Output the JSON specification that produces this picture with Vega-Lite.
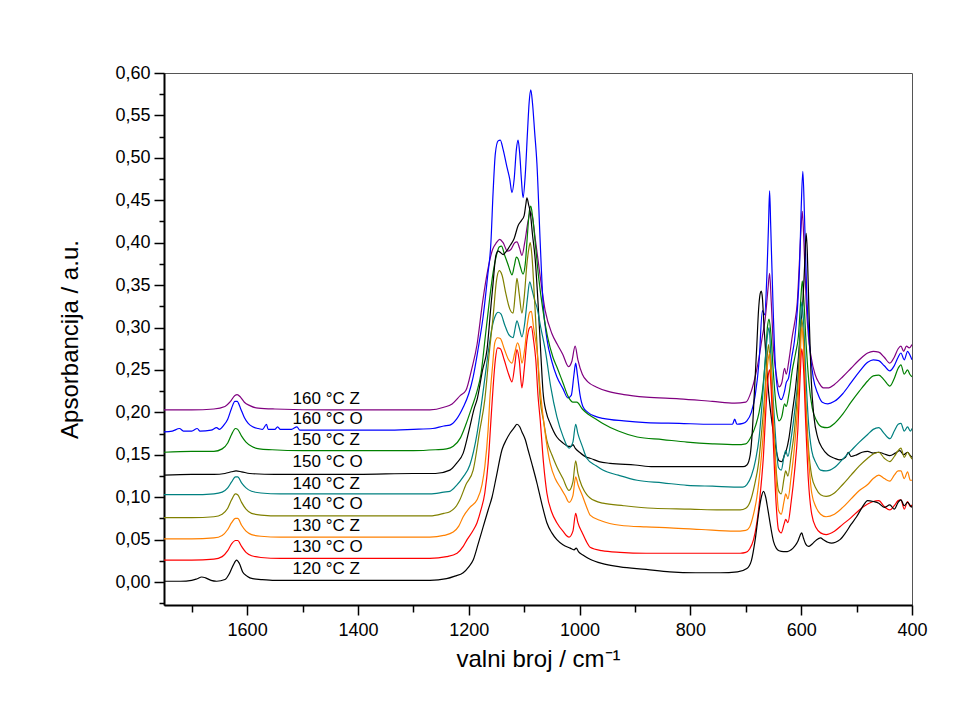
{
"$schema": "https://vega.github.io/schema/vega-lite/v6.json",
"width": 748,
"height": 532,
"autosize": {"type": "none"},
"padding": {"left": 164, "top": 73, "right": 60, "bottom": 112},
"background": "white",
"config": {"view": {"stroke": "#555555", "strokeWidth": 1}, "font": "Liberation Sans"},
"datasets": {
"spec": [
{"s":"Z160","x":1750,"y":0.203},{"s":"Z160","x":1700,"y":0.203},{"s":"Z160","x":1660,"y":0.204},{"s":"Z160","x":1640,"y":0.207},{"s":"Z160","x":1630,"y":0.213},{"s":"Z160","x":1622,"y":0.220},{"s":"Z160","x":1618,"y":0.221},{"s":"Z160","x":1612,"y":0.218},{"s":"Z160","x":1605,"y":0.212},{"s":"Z160","x":1595,"y":0.208},{"s":"Z160","x":1580,"y":0.205},{"s":"Z160","x":1550,"y":0.204},{"s":"Z160","x":1450,"y":0.203},{"s":"Z160","x":1350,"y":0.203},{"s":"Z160","x":1270,"y":0.203},{"s":"Z160","x":1245,"y":0.206},{"s":"Z160","x":1230,"y":0.210},{"s":"Z160","x":1215,"y":0.220},{"s":"Z160","x":1205,"y":0.226},{"s":"Z160","x":1195,"y":0.250},{"s":"Z160","x":1185,"y":0.280},{"s":"Z160","x":1175,"y":0.330},{"s":"Z160","x":1165,"y":0.370},{"s":"Z160","x":1157,"y":0.392},{"s":"Z160","x":1150,"y":0.400},{"s":"Z160","x":1144,"y":0.404},{"s":"Z160","x":1138,"y":0.400},{"s":"Z160","x":1130,"y":0.390},{"s":"Z160","x":1124,"y":0.392},{"s":"Z160","x":1117,"y":0.400},{"s":"Z160","x":1113,"y":0.401},{"s":"Z160","x":1108,"y":0.393},{"s":"Z160","x":1104,"y":0.385},{"s":"Z160","x":1099,"y":0.400},{"s":"Z160","x":1093,"y":0.425},{"s":"Z160","x":1089,"y":0.436},{"s":"Z160","x":1085,"y":0.430},{"s":"Z160","x":1080,"y":0.405},{"s":"Z160","x":1072,"y":0.365},{"s":"Z160","x":1062,"y":0.320},{"s":"Z160","x":1050,"y":0.293},{"s":"Z160","x":1040,"y":0.280},{"s":"Z160","x":1030,"y":0.268},{"s":"Z160","x":1020,"y":0.254},{"s":"Z160","x":1014,"y":0.260},{"s":"Z160","x":1008,"y":0.278},{"s":"Z160","x":1003,"y":0.262},{"s":"Z160","x":995,"y":0.245},{"s":"Z160","x":985,"y":0.236},{"s":"Z160","x":970,"y":0.230},{"s":"Z160","x":950,"y":0.225},{"s":"Z160","x":920,"y":0.221},{"s":"Z160","x":880,"y":0.218},{"s":"Z160","x":820,"y":0.216},{"s":"Z160","x":760,"y":0.213},{"s":"Z160","x":720,"y":0.211},{"s":"Z160","x":700,"y":0.212},{"s":"Z160","x":690,"y":0.225},{"s":"Z160","x":682,"y":0.245},{"s":"Z160","x":676,"y":0.265},{"s":"Z160","x":670,"y":0.290},{"s":"Z160","x":665,"y":0.310},{"s":"Z160","x":660,"y":0.345},{"s":"Z160","x":657,"y":0.364},{"s":"Z160","x":654,"y":0.330},{"s":"Z160","x":650,"y":0.275},{"s":"Z160","x":645,"y":0.245},{"s":"Z160","x":640,"y":0.230},{"s":"Z160","x":635,"y":0.235},{"s":"Z160","x":630,"y":0.252},{"s":"Z160","x":627,"y":0.245},{"s":"Z160","x":622,"y":0.262},{"s":"Z160","x":616,"y":0.290},{"s":"Z160","x":612,"y":0.305},{"s":"Z160","x":607,"y":0.330},{"s":"Z160","x":603,"y":0.380},{"s":"Z160","x":600,"y":0.420},{"s":"Z160","x":598,"y":0.437},{"s":"Z160","x":595,"y":0.400},{"s":"Z160","x":591,"y":0.330},{"s":"Z160","x":587,"y":0.290},{"s":"Z160","x":582,"y":0.265},{"s":"Z160","x":575,"y":0.245},{"s":"Z160","x":568,"y":0.235},{"s":"Z160","x":560,"y":0.229},{"s":"Z160","x":550,"y":0.229},{"s":"Z160","x":540,"y":0.233},{"s":"Z160","x":525,"y":0.242},{"s":"Z160","x":510,"y":0.252},{"s":"Z160","x":495,"y":0.262},{"s":"Z160","x":480,"y":0.270},{"s":"Z160","x":470,"y":0.272},{"s":"Z160","x":460,"y":0.271},{"s":"Z160","x":450,"y":0.265},{"s":"Z160","x":440,"y":0.258},{"s":"Z160","x":432,"y":0.265},{"s":"Z160","x":425,"y":0.275},{"s":"Z160","x":420,"y":0.278},{"s":"Z160","x":415,"y":0.272},{"s":"Z160","x":410,"y":0.278},{"s":"Z160","x":405,"y":0.276},{"s":"Z160","x":400,"y":0.280},

{"s":"O160","x":1750,"y":0.177},{"s":"O160","x":1735,"y":0.178},{"s":"O160","x":1722,"y":0.181},{"s":"O160","x":1715,"y":0.178},{"s":"O160","x":1700,"y":0.178},{"s":"O160","x":1690,"y":0.181},{"s":"O160","x":1685,"y":0.178},{"s":"O160","x":1665,"y":0.179},{"s":"O160","x":1655,"y":0.182},{"s":"O160","x":1650,"y":0.180},{"s":"O160","x":1642,"y":0.185},{"s":"O160","x":1635,"y":0.192},{"s":"O160","x":1628,"y":0.205},{"s":"O160","x":1622,"y":0.213},{"s":"O160","x":1618,"y":0.213},{"s":"O160","x":1612,"y":0.205},{"s":"O160","x":1605,"y":0.194},{"s":"O160","x":1598,"y":0.187},{"s":"O160","x":1590,"y":0.183},{"s":"O160","x":1580,"y":0.181},{"s":"O160","x":1572,"y":0.180},{"s":"O160","x":1565,"y":0.186},{"s":"O160","x":1562,"y":0.180},{"s":"O160","x":1550,"y":0.180},{"s":"O160","x":1545,"y":0.183},{"s":"O160","x":1540,"y":0.180},{"s":"O160","x":1520,"y":0.180},{"s":"O160","x":1510,"y":0.183},{"s":"O160","x":1505,"y":0.179},{"s":"O160","x":1450,"y":0.179},{"s":"O160","x":1350,"y":0.179},{"s":"O160","x":1300,"y":0.180},{"s":"O160","x":1265,"y":0.181},{"s":"O160","x":1245,"y":0.184},{"s":"O160","x":1234,"y":0.185},{"s":"O160","x":1222,"y":0.192},{"s":"O160","x":1210,"y":0.206},{"s":"O160","x":1200,"y":0.222},{"s":"O160","x":1192,"y":0.242},{"s":"O160","x":1183,"y":0.275},{"s":"O160","x":1174,"y":0.313},{"s":"O160","x":1166,"y":0.360},{"s":"O160","x":1160,"y":0.400},{"s":"O160","x":1156,"y":0.460},{"s":"O160","x":1152,"y":0.505},{"s":"O160","x":1147,"y":0.520},{"s":"O160","x":1143,"y":0.521},{"s":"O160","x":1138,"y":0.510},{"s":"O160","x":1131,"y":0.489},{"s":"O160","x":1126,"y":0.475},{"s":"O160","x":1122,"y":0.459},{"s":"O160","x":1118,"y":0.475},{"s":"O160","x":1114,"y":0.510},{"s":"O160","x":1111,"y":0.521},{"s":"O160","x":1108,"y":0.505},{"s":"O160","x":1105,"y":0.475},{"s":"O160","x":1102,"y":0.453},{"s":"O160","x":1098,"y":0.480},{"s":"O160","x":1094,"y":0.530},{"s":"O160","x":1091,"y":0.565},{"s":"O160","x":1088,"y":0.580},{"s":"O160","x":1085,"y":0.565},{"s":"O160","x":1081,"y":0.530},{"s":"O160","x":1077,"y":0.494},{"s":"O160","x":1071,"y":0.400},{"s":"O160","x":1066,"y":0.330},{"s":"O160","x":1059,"y":0.287},{"s":"O160","x":1050,"y":0.260},{"s":"O160","x":1041,"y":0.242},{"s":"O160","x":1030,"y":0.228},{"s":"O160","x":1021,"y":0.217},{"s":"O160","x":1015,"y":0.220},{"s":"O160","x":1010,"y":0.245},{"s":"O160","x":1007,"y":0.258},{"s":"O160","x":1004,"y":0.245},{"s":"O160","x":999,"y":0.220},{"s":"O160","x":994,"y":0.207},{"s":"O160","x":985,"y":0.200},{"s":"O160","x":970,"y":0.195},{"s":"O160","x":958,"y":0.193},{"s":"O160","x":920,"y":0.190},{"s":"O160","x":880,"y":0.188},{"s":"O160","x":820,"y":0.187},{"s":"O160","x":760,"y":0.186},{"s":"O160","x":724,"y":0.186},{"s":"O160","x":720,"y":0.192},{"s":"O160","x":716,"y":0.186},{"s":"O160","x":705,"y":0.187},{"s":"O160","x":698,"y":0.190},{"s":"O160","x":690,"y":0.200},{"s":"O160","x":683,"y":0.220},{"s":"O160","x":676,"y":0.260},{"s":"O160","x":670,"y":0.320},{"s":"O160","x":666,"y":0.315},{"s":"O160","x":662,"y":0.360},{"s":"O160","x":659,"y":0.420},{"s":"O160","x":657,"y":0.461},{"s":"O160","x":655,"y":0.420},{"s":"O160","x":651,"y":0.330},{"s":"O160","x":647,"y":0.260},{"s":"O160","x":642,"y":0.225},{"s":"O160","x":636,"y":0.215},{"s":"O160","x":630,"y":0.225},{"s":"O160","x":627,"y":0.235},{"s":"O160","x":623,"y":0.240},{"s":"O160","x":617,"y":0.265},{"s":"O160","x":612,"y":0.285},{"s":"O160","x":607,"y":0.320},{"s":"O160","x":603,"y":0.370},{"s":"O160","x":600,"y":0.440},{"s":"O160","x":597,"y":0.484},{"s":"O160","x":594,"y":0.430},{"s":"O160","x":590,"y":0.340},{"s":"O160","x":585,"y":0.280},{"s":"O160","x":578,"y":0.240},{"s":"O160","x":570,"y":0.222},{"s":"O160","x":562,"y":0.212},{"s":"O160","x":552,"y":0.210},{"s":"O160","x":540,"y":0.213},{"s":"O160","x":525,"y":0.222},{"s":"O160","x":510,"y":0.235},{"s":"O160","x":495,"y":0.248},{"s":"O160","x":480,"y":0.259},{"s":"O160","x":470,"y":0.262},{"s":"O160","x":460,"y":0.261},{"s":"O160","x":450,"y":0.255},{"s":"O160","x":440,"y":0.249},{"s":"O160","x":432,"y":0.255},{"s":"O160","x":425,"y":0.265},{"s":"O160","x":420,"y":0.270},{"s":"O160","x":414,"y":0.262},{"s":"O160","x":408,"y":0.272},{"s":"O160","x":404,"y":0.268},{"s":"O160","x":400,"y":0.262},

{"s":"Z150","x":1750,"y":0.153},{"s":"Z150","x":1700,"y":0.154},{"s":"Z150","x":1660,"y":0.154},{"s":"Z150","x":1645,"y":0.157},{"s":"Z150","x":1635,"y":0.164},{"s":"Z150","x":1628,"y":0.174},{"s":"Z150","x":1621,"y":0.181},{"s":"Z150","x":1617,"y":0.180},{"s":"Z150","x":1610,"y":0.172},{"s":"Z150","x":1602,"y":0.165},{"s":"Z150","x":1592,"y":0.160},{"s":"Z150","x":1578,"y":0.157},{"s":"Z150","x":1555,"y":0.156},{"s":"Z150","x":1500,"y":0.155},{"s":"Z150","x":1400,"y":0.155},{"s":"Z150","x":1300,"y":0.155},{"s":"Z150","x":1260,"y":0.156},{"s":"Z150","x":1240,"y":0.157},{"s":"Z150","x":1228,"y":0.160},{"s":"Z150","x":1215,"y":0.170},{"s":"Z150","x":1205,"y":0.186},{"s":"Z150","x":1195,"y":0.205},{"s":"Z150","x":1185,"y":0.225},{"s":"Z150","x":1178,"y":0.245},{"s":"Z150","x":1170,"y":0.290},{"s":"Z150","x":1163,"y":0.330},{"s":"Z150","x":1156,"y":0.365},{"s":"Z150","x":1150,"y":0.385},{"s":"Z150","x":1145,"y":0.395},{"s":"Z150","x":1141,"y":0.396},{"s":"Z150","x":1135,"y":0.385},{"s":"Z150","x":1129,"y":0.374},{"s":"Z150","x":1125,"y":0.366},{"s":"Z150","x":1122,"y":0.362},{"s":"Z150","x":1118,"y":0.372},{"s":"Z150","x":1114,"y":0.383},{"s":"Z150","x":1111,"y":0.381},{"s":"Z150","x":1107,"y":0.372},{"s":"Z150","x":1102,"y":0.363},{"s":"Z150","x":1098,"y":0.375},{"s":"Z150","x":1094,"y":0.410},{"s":"Z150","x":1091,"y":0.435},{"s":"Z150","x":1088,"y":0.443},{"s":"Z150","x":1085,"y":0.432},{"s":"Z150","x":1080,"y":0.400},{"s":"Z150","x":1074,"y":0.360},{"s":"Z150","x":1066,"y":0.320},{"s":"Z150","x":1058,"y":0.290},{"s":"Z150","x":1048,"y":0.265},{"s":"Z150","x":1040,"y":0.252},{"s":"Z150","x":1030,"y":0.235},{"s":"Z150","x":1020,"y":0.218},{"s":"Z150","x":1012,"y":0.212},{"s":"Z150","x":1005,"y":0.212},{"s":"Z150","x":995,"y":0.204},{"s":"Z150","x":985,"y":0.198},{"s":"Z150","x":970,"y":0.192},{"s":"Z150","x":958,"y":0.187},{"s":"Z150","x":930,"y":0.178},{"s":"Z150","x":896,"y":0.171},{"s":"Z150","x":850,"y":0.168},{"s":"Z150","x":806,"y":0.165},{"s":"Z150","x":760,"y":0.163},{"s":"Z150","x":716,"y":0.162},{"s":"Z150","x":700,"y":0.163},{"s":"Z150","x":690,"y":0.172},{"s":"Z150","x":682,"y":0.185},{"s":"Z150","x":676,"y":0.200},{"s":"Z150","x":670,"y":0.225},{"s":"Z150","x":665,"y":0.260},{"s":"Z150","x":661,"y":0.300},{"s":"Z150","x":658,"y":0.310},{"s":"Z150","x":655,"y":0.295},{"s":"Z150","x":650,"y":0.245},{"s":"Z150","x":645,"y":0.205},{"s":"Z150","x":640,"y":0.190},{"s":"Z150","x":635,"y":0.195},{"s":"Z150","x":630,"y":0.210},{"s":"Z150","x":627,"y":0.207},{"s":"Z150","x":622,"y":0.222},{"s":"Z150","x":616,"y":0.250},{"s":"Z150","x":610,"y":0.270},{"s":"Z150","x":605,"y":0.290},{"s":"Z150","x":601,"y":0.330},{"s":"Z150","x":598,"y":0.355},{"s":"Z150","x":595,"y":0.330},{"s":"Z150","x":591,"y":0.280},{"s":"Z150","x":586,"y":0.235},{"s":"Z150","x":580,"y":0.205},{"s":"Z150","x":572,"y":0.190},{"s":"Z150","x":563,"y":0.183},{"s":"Z150","x":553,"y":0.182},{"s":"Z150","x":540,"y":0.187},{"s":"Z150","x":525,"y":0.198},{"s":"Z150","x":510,"y":0.212},{"s":"Z150","x":495,"y":0.225},{"s":"Z150","x":480,"y":0.237},{"s":"Z150","x":470,"y":0.243},{"s":"Z150","x":460,"y":0.244},{"s":"Z150","x":450,"y":0.238},{"s":"Z150","x":440,"y":0.231},{"s":"Z150","x":432,"y":0.240},{"s":"Z150","x":425,"y":0.252},{"s":"Z150","x":420,"y":0.256},{"s":"Z150","x":414,"y":0.245},{"s":"Z150","x":408,"y":0.250},{"s":"Z150","x":404,"y":0.245},{"s":"Z150","x":400,"y":0.242},

{"s":"O150","x":1750,"y":0.126},{"s":"O150","x":1700,"y":0.127},{"s":"O150","x":1660,"y":0.127},{"s":"O150","x":1640,"y":0.128},{"s":"O150","x":1628,"y":0.130},{"s":"O150","x":1620,"y":0.131},{"s":"O150","x":1610,"y":0.130},{"s":"O150","x":1595,"y":0.128},{"s":"O150","x":1550,"y":0.127},{"s":"O150","x":1500,"y":0.127},{"s":"O150","x":1400,"y":0.127},{"s":"O150","x":1300,"y":0.128},{"s":"O150","x":1260,"y":0.128},{"s":"O150","x":1234,"y":0.132},{"s":"O150","x":1222,"y":0.140},{"s":"O150","x":1210,"y":0.152},{"s":"O150","x":1198,"y":0.183},{"s":"O150","x":1190,"y":0.205},{"s":"O150","x":1185,"y":0.215},{"s":"O150","x":1175,"y":0.250},{"s":"O150","x":1167,"y":0.274},{"s":"O150","x":1160,"y":0.325},{"s":"O150","x":1156,"y":0.353},{"s":"O150","x":1151,"y":0.385},{"s":"O150","x":1147,"y":0.390},{"s":"O150","x":1142,"y":0.388},{"s":"O150","x":1138,"y":0.386},{"s":"O150","x":1132,"y":0.390},{"s":"O150","x":1125,"y":0.397},{"s":"O150","x":1118,"y":0.405},{"s":"O150","x":1111,"y":0.420},{"s":"O150","x":1105,"y":0.426},{"s":"O150","x":1100,"y":0.432},{"s":"O150","x":1097,"y":0.445},{"s":"O150","x":1095,"y":0.453},{"s":"O150","x":1092,"y":0.445},{"s":"O150","x":1089,"y":0.436},{"s":"O150","x":1085,"y":0.410},{"s":"O150","x":1080,"y":0.380},{"s":"O150","x":1075,"y":0.330},{"s":"O150","x":1070,"y":0.270},{"s":"O150","x":1066,"y":0.225},{"s":"O150","x":1060,"y":0.200},{"s":"O150","x":1053,"y":0.187},{"s":"O150","x":1041,"y":0.171},{"s":"O150","x":1030,"y":0.164},{"s":"O150","x":1020,"y":0.160},{"s":"O150","x":1015,"y":0.160},{"s":"O150","x":1012,"y":0.162},{"s":"O150","x":1008,"y":0.158},{"s":"O150","x":1000,"y":0.153},{"s":"O150","x":987,"y":0.147},{"s":"O150","x":981,"y":0.146},{"s":"O150","x":965,"y":0.142},{"s":"O150","x":945,"y":0.140},{"s":"O150","x":900,"y":0.138},{"s":"O150","x":867,"y":0.136},{"s":"O150","x":820,"y":0.136},{"s":"O150","x":777,"y":0.136},{"s":"O150","x":720,"y":0.136},{"s":"O150","x":705,"y":0.136},{"s":"O150","x":698,"y":0.138},{"s":"O150","x":692,"y":0.150},{"s":"O150","x":688,"y":0.180},{"s":"O150","x":684,"y":0.230},{"s":"O150","x":680,"y":0.280},{"s":"O150","x":677,"y":0.320},{"s":"O150","x":674,"y":0.340},{"s":"O150","x":672,"y":0.343},{"s":"O150","x":670,"y":0.335},{"s":"O150","x":667,"y":0.300},{"s":"O150","x":663,"y":0.260},{"s":"O150","x":659,"y":0.225},{"s":"O150","x":655,"y":0.200},{"s":"O150","x":650,"y":0.175},{"s":"O150","x":645,"y":0.155},{"s":"O150","x":640,"y":0.143},{"s":"O150","x":635,"y":0.142},{"s":"O150","x":630,"y":0.150},{"s":"O150","x":627,"y":0.155},{"s":"O150","x":622,"y":0.170},{"s":"O150","x":616,"y":0.200},{"s":"O150","x":610,"y":0.230},{"s":"O150","x":605,"y":0.265},{"s":"O150","x":601,"y":0.300},{"s":"O150","x":597,"y":0.330},{"s":"O150","x":594,"y":0.370},{"s":"O150","x":591,"y":0.411},{"s":"O150","x":589,"y":0.390},{"s":"O150","x":586,"y":0.320},{"s":"O150","x":582,"y":0.240},{"s":"O150","x":577,"y":0.195},{"s":"O150","x":570,"y":0.170},{"s":"O150","x":562,"y":0.158},{"s":"O150","x":552,"y":0.150},{"s":"O150","x":540,"y":0.146},{"s":"O150","x":530,"y":0.144},{"s":"O150","x":520,"y":0.147},{"s":"O150","x":515,"y":0.153},{"s":"O150","x":510,"y":0.148},{"s":"O150","x":500,"y":0.150},{"s":"O150","x":490,"y":0.153},{"s":"O150","x":480,"y":0.154},{"s":"O150","x":470,"y":0.152},{"s":"O150","x":460,"y":0.153},{"s":"O150","x":450,"y":0.151},{"s":"O150","x":440,"y":0.149},{"s":"O150","x":430,"y":0.152},{"s":"O150","x":422,"y":0.155},{"s":"O150","x":415,"y":0.150},{"s":"O150","x":408,"y":0.153},{"s":"O150","x":403,"y":0.149},{"s":"O150","x":400,"y":0.147},

{"s":"Z140","x":1750,"y":0.103},{"s":"Z140","x":1700,"y":0.103},{"s":"Z140","x":1660,"y":0.104},{"s":"Z140","x":1645,"y":0.106},{"s":"Z140","x":1635,"y":0.111},{"s":"Z140","x":1628,"y":0.118},{"s":"Z140","x":1621,"y":0.124},{"s":"Z140","x":1617,"y":0.124},{"s":"Z140","x":1610,"y":0.117},{"s":"Z140","x":1602,"y":0.111},{"s":"Z140","x":1592,"y":0.107},{"s":"Z140","x":1575,"y":0.105},{"s":"Z140","x":1540,"y":0.104},{"s":"Z140","x":1450,"y":0.104},{"s":"Z140","x":1350,"y":0.104},{"s":"Z140","x":1270,"y":0.104},{"s":"Z140","x":1245,"y":0.106},{"s":"Z140","x":1234,"y":0.107},{"s":"Z140","x":1222,"y":0.114},{"s":"Z140","x":1210,"y":0.124},{"s":"Z140","x":1198,"y":0.138},{"s":"Z140","x":1185,"y":0.175},{"s":"Z140","x":1176,"y":0.215},{"s":"Z140","x":1167,"y":0.260},{"s":"Z140","x":1158,"y":0.300},{"s":"Z140","x":1152,"y":0.314},{"s":"Z140","x":1147,"y":0.318},{"s":"Z140","x":1142,"y":0.316},{"s":"Z140","x":1135,"y":0.303},{"s":"Z140","x":1128,"y":0.292},{"s":"Z140","x":1120,"y":0.288},{"s":"Z140","x":1116,"y":0.300},{"s":"Z140","x":1113,"y":0.308},{"s":"Z140","x":1109,"y":0.300},{"s":"Z140","x":1104,"y":0.289},{"s":"Z140","x":1099,"y":0.305},{"s":"Z140","x":1094,"y":0.335},{"s":"Z140","x":1090,"y":0.354},{"s":"Z140","x":1086,"y":0.345},{"s":"Z140","x":1080,"y":0.330},{"s":"Z140","x":1077,"y":0.324},{"s":"Z140","x":1070,"y":0.300},{"s":"Z140","x":1062,"y":0.274},{"s":"Z140","x":1052,"y":0.230},{"s":"Z140","x":1041,"y":0.195},{"s":"Z140","x":1030,"y":0.172},{"s":"Z140","x":1019,"y":0.158},{"s":"Z140","x":1012,"y":0.165},{"s":"Z140","x":1007,"y":0.186},{"s":"Z140","x":1003,"y":0.175},{"s":"Z140","x":995,"y":0.160},{"s":"Z140","x":987,"y":0.146},{"s":"Z140","x":970,"y":0.137},{"s":"Z140","x":958,"y":0.132},{"s":"Z140","x":930,"y":0.126},{"s":"Z140","x":896,"y":0.120},{"s":"Z140","x":850,"y":0.117},{"s":"Z140","x":806,"y":0.114},{"s":"Z140","x":760,"y":0.113},{"s":"Z140","x":705,"y":0.112},{"s":"Z140","x":698,"y":0.115},{"s":"Z140","x":690,"y":0.125},{"s":"Z140","x":682,"y":0.145},{"s":"Z140","x":676,"y":0.170},{"s":"Z140","x":670,"y":0.215},{"s":"Z140","x":665,"y":0.260},{"s":"Z140","x":661,"y":0.290},{"s":"Z140","x":658,"y":0.300},{"s":"Z140","x":655,"y":0.270},{"s":"Z140","x":650,"y":0.210},{"s":"Z140","x":645,"y":0.160},{"s":"Z140","x":641,"y":0.135},{"s":"Z140","x":636,"y":0.132},{"s":"Z140","x":631,"y":0.148},{"s":"Z140","x":628,"y":0.155},{"s":"Z140","x":624,"y":0.148},{"s":"Z140","x":618,"y":0.170},{"s":"Z140","x":612,"y":0.200},{"s":"Z140","x":606,"y":0.240},{"s":"Z140","x":602,"y":0.290},{"s":"Z140","x":599,"y":0.330},{"s":"Z140","x":596,"y":0.310},{"s":"Z140","x":592,"y":0.250},{"s":"Z140","x":587,"y":0.190},{"s":"Z140","x":581,"y":0.155},{"s":"Z140","x":573,"y":0.140},{"s":"Z140","x":565,"y":0.132},{"s":"Z140","x":555,"y":0.131},{"s":"Z140","x":540,"y":0.135},{"s":"Z140","x":525,"y":0.145},{"s":"Z140","x":510,"y":0.155},{"s":"Z140","x":495,"y":0.165},{"s":"Z140","x":480,"y":0.174},{"s":"Z140","x":470,"y":0.180},{"s":"Z140","x":460,"y":0.182},{"s":"Z140","x":450,"y":0.175},{"s":"Z140","x":440,"y":0.169},{"s":"Z140","x":432,"y":0.178},{"s":"Z140","x":425,"y":0.186},{"s":"Z140","x":420,"y":0.187},{"s":"Z140","x":414,"y":0.178},{"s":"Z140","x":408,"y":0.183},{"s":"Z140","x":403,"y":0.178},{"s":"Z140","x":400,"y":0.181},

{"s":"O140","x":1750,"y":0.076},{"s":"O140","x":1700,"y":0.076},{"s":"O140","x":1660,"y":0.077},{"s":"O140","x":1645,"y":0.080},{"s":"O140","x":1635,"y":0.087},{"s":"O140","x":1628,"y":0.097},{"s":"O140","x":1621,"y":0.104},{"s":"O140","x":1617,"y":0.103},{"s":"O140","x":1610,"y":0.094},{"s":"O140","x":1602,"y":0.086},{"s":"O140","x":1592,"y":0.081},{"s":"O140","x":1575,"y":0.079},{"s":"O140","x":1540,"y":0.078},{"s":"O140","x":1450,"y":0.078},{"s":"O140","x":1350,"y":0.078},{"s":"O140","x":1270,"y":0.078},{"s":"O140","x":1245,"y":0.081},{"s":"O140","x":1234,"y":0.083},{"s":"O140","x":1222,"y":0.090},{"s":"O140","x":1216,"y":0.097},{"s":"O140","x":1205,"y":0.115},{"s":"O140","x":1192,"y":0.132},{"s":"O140","x":1180,"y":0.179},{"s":"O140","x":1171,"y":0.215},{"s":"O140","x":1163,"y":0.270},{"s":"O140","x":1156,"y":0.313},{"s":"O140","x":1150,"y":0.355},{"s":"O140","x":1145,"y":0.367},{"s":"O140","x":1140,"y":0.362},{"s":"O140","x":1133,"y":0.340},{"s":"O140","x":1126,"y":0.322},{"s":"O140","x":1120,"y":0.317},{"s":"O140","x":1116,"y":0.340},{"s":"O140","x":1113,"y":0.358},{"s":"O140","x":1109,"y":0.340},{"s":"O140","x":1104,"y":0.317},{"s":"O140","x":1100,"y":0.335},{"s":"O140","x":1095,"y":0.375},{"s":"O140","x":1091,"y":0.395},{"s":"O140","x":1089,"y":0.400},{"s":"O140","x":1086,"y":0.385},{"s":"O140","x":1081,"y":0.330},{"s":"O140","x":1076,"y":0.270},{"s":"O140","x":1071,"y":0.215},{"s":"O140","x":1065,"y":0.190},{"s":"O140","x":1059,"y":0.167},{"s":"O140","x":1050,"y":0.150},{"s":"O140","x":1041,"y":0.136},{"s":"O140","x":1030,"y":0.122},{"s":"O140","x":1019,"y":0.108},{"s":"O140","x":1012,"y":0.118},{"s":"O140","x":1007,"y":0.143},{"s":"O140","x":1003,"y":0.128},{"s":"O140","x":995,"y":0.112},{"s":"O140","x":987,"y":0.103},{"s":"O140","x":981,"y":0.099},{"s":"O140","x":958,"y":0.093},{"s":"O140","x":920,"y":0.090},{"s":"O140","x":867,"y":0.087},{"s":"O140","x":800,"y":0.086},{"s":"O140","x":746,"y":0.085},{"s":"O140","x":710,"y":0.085},{"s":"O140","x":700,"y":0.087},{"s":"O140","x":692,"y":0.095},{"s":"O140","x":684,"y":0.115},{"s":"O140","x":677,"y":0.140},{"s":"O140","x":671,"y":0.180},{"s":"O140","x":666,"y":0.220},{"s":"O140","x":662,"y":0.260},{"s":"O140","x":659,"y":0.280},{"s":"O140","x":656,"y":0.260},{"s":"O140","x":651,"y":0.200},{"s":"O140","x":646,"y":0.140},{"s":"O140","x":641,"y":0.108},{"s":"O140","x":636,"y":0.104},{"s":"O140","x":631,"y":0.122},{"s":"O140","x":628,"y":0.131},{"s":"O140","x":624,"y":0.125},{"s":"O140","x":618,"y":0.150},{"s":"O140","x":612,"y":0.180},{"s":"O140","x":606,"y":0.230},{"s":"O140","x":602,"y":0.280},{"s":"O140","x":599,"y":0.310},{"s":"O140","x":596,"y":0.290},{"s":"O140","x":592,"y":0.220},{"s":"O140","x":587,"y":0.160},{"s":"O140","x":581,"y":0.125},{"s":"O140","x":573,"y":0.110},{"s":"O140","x":565,"y":0.103},{"s":"O140","x":555,"y":0.101},{"s":"O140","x":540,"y":0.105},{"s":"O140","x":525,"y":0.115},{"s":"O140","x":510,"y":0.126},{"s":"O140","x":495,"y":0.137},{"s":"O140","x":480,"y":0.146},{"s":"O140","x":470,"y":0.151},{"s":"O140","x":460,"y":0.153},{"s":"O140","x":450,"y":0.146},{"s":"O140","x":440,"y":0.142},{"s":"O140","x":432,"y":0.148},{"s":"O140","x":425,"y":0.155},{"s":"O140","x":420,"y":0.158},{"s":"O140","x":414,"y":0.147},{"s":"O140","x":408,"y":0.153},{"s":"O140","x":403,"y":0.148},{"s":"O140","x":400,"y":0.145},

{"s":"Z130","x":1750,"y":0.051},{"s":"Z130","x":1700,"y":0.051},{"s":"Z130","x":1660,"y":0.052},{"s":"Z130","x":1645,"y":0.055},{"s":"Z130","x":1635,"y":0.062},{"s":"Z130","x":1628,"y":0.070},{"s":"Z130","x":1621,"y":0.075},{"s":"Z130","x":1617,"y":0.075},{"s":"Z130","x":1610,"y":0.067},{"s":"Z130","x":1602,"y":0.060},{"s":"Z130","x":1592,"y":0.056},{"s":"Z130","x":1575,"y":0.054},{"s":"Z130","x":1540,"y":0.053},{"s":"Z130","x":1450,"y":0.053},{"s":"Z130","x":1350,"y":0.053},{"s":"Z130","x":1270,"y":0.053},{"s":"Z130","x":1245,"y":0.055},{"s":"Z130","x":1228,"y":0.059},{"s":"Z130","x":1218,"y":0.066},{"s":"Z130","x":1210,"y":0.077},{"s":"Z130","x":1198,"y":0.088},{"s":"Z130","x":1185,"y":0.097},{"s":"Z130","x":1176,"y":0.115},{"s":"Z130","x":1171,"y":0.136},{"s":"Z130","x":1165,"y":0.180},{"s":"Z130","x":1162,"y":0.215},{"s":"Z130","x":1157,"y":0.255},{"s":"Z130","x":1153,"y":0.282},{"s":"Z130","x":1148,"y":0.288},{"s":"Z130","x":1143,"y":0.287},{"s":"Z130","x":1136,"y":0.275},{"s":"Z130","x":1128,"y":0.262},{"s":"Z130","x":1122,"y":0.258},{"s":"Z130","x":1117,"y":0.270},{"s":"Z130","x":1112,"y":0.282},{"s":"Z130","x":1108,"y":0.275},{"s":"Z130","x":1104,"y":0.258},{"s":"Z130","x":1099,"y":0.275},{"s":"Z130","x":1094,"y":0.305},{"s":"Z130","x":1090,"y":0.318},{"s":"Z130","x":1087,"y":0.319},{"s":"Z130","x":1083,"y":0.300},{"s":"Z130","x":1077,"y":0.274},{"s":"Z130","x":1070,"y":0.220},{"s":"Z130","x":1063,"y":0.180},{"s":"Z130","x":1053,"y":0.140},{"s":"Z130","x":1044,"y":0.122},{"s":"Z130","x":1035,"y":0.112},{"s":"Z130","x":1026,"y":0.102},{"s":"Z130","x":1019,"y":0.094},{"s":"Z130","x":1012,"y":0.102},{"s":"Z130","x":1007,"y":0.124},{"s":"Z130","x":1003,"y":0.115},{"s":"Z130","x":995,"y":0.102},{"s":"Z130","x":987,"y":0.088},{"s":"Z130","x":981,"y":0.079},{"s":"Z130","x":960,"y":0.072},{"s":"Z130","x":927,"y":0.067},{"s":"Z130","x":880,"y":0.065},{"s":"Z130","x":837,"y":0.064},{"s":"Z130","x":780,"y":0.062},{"s":"Z130","x":720,"y":0.060},{"s":"Z130","x":700,"y":0.061},{"s":"Z130","x":693,"y":0.065},{"s":"Z130","x":686,"y":0.080},{"s":"Z130","x":680,"y":0.100},{"s":"Z130","x":673,"y":0.140},{"s":"Z130","x":668,"y":0.180},{"s":"Z130","x":664,"y":0.230},{"s":"Z130","x":660,"y":0.260},{"s":"Z130","x":657,"y":0.270},{"s":"Z130","x":654,"y":0.250},{"s":"Z130","x":650,"y":0.190},{"s":"Z130","x":645,"y":0.120},{"s":"Z130","x":641,"y":0.085},{"s":"Z130","x":636,"y":0.080},{"s":"Z130","x":631,"y":0.095},{"s":"Z130","x":628,"y":0.104},{"s":"Z130","x":624,"y":0.098},{"s":"Z130","x":618,"y":0.125},{"s":"Z130","x":612,"y":0.160},{"s":"Z130","x":606,"y":0.210},{"s":"Z130","x":602,"y":0.260},{"s":"Z130","x":599,"y":0.300},{"s":"Z130","x":596,"y":0.280},{"s":"Z130","x":592,"y":0.210},{"s":"Z130","x":587,"y":0.150},{"s":"Z130","x":581,"y":0.105},{"s":"Z130","x":573,"y":0.088},{"s":"Z130","x":565,"y":0.080},{"s":"Z130","x":555,"y":0.077},{"s":"Z130","x":540,"y":0.080},{"s":"Z130","x":525,"y":0.088},{"s":"Z130","x":510,"y":0.098},{"s":"Z130","x":495,"y":0.108},{"s":"Z130","x":480,"y":0.115},{"s":"Z130","x":470,"y":0.122},{"s":"Z130","x":460,"y":0.126},{"s":"Z130","x":450,"y":0.122},{"s":"Z130","x":440,"y":0.119},{"s":"Z130","x":432,"y":0.126},{"s":"Z130","x":425,"y":0.131},{"s":"Z130","x":420,"y":0.131},{"s":"Z130","x":414,"y":0.122},{"s":"Z130","x":408,"y":0.130},{"s":"Z130","x":403,"y":0.120},{"s":"Z130","x":400,"y":0.120},

{"s":"O130","x":1750,"y":0.026},{"s":"O130","x":1700,"y":0.026},{"s":"O130","x":1660,"y":0.027},{"s":"O130","x":1645,"y":0.030},{"s":"O130","x":1635,"y":0.037},{"s":"O130","x":1628,"y":0.045},{"s":"O130","x":1621,"y":0.049},{"s":"O130","x":1617,"y":0.049},{"s":"O130","x":1610,"y":0.042},{"s":"O130","x":1602,"y":0.035},{"s":"O130","x":1592,"y":0.031},{"s":"O130","x":1575,"y":0.029},{"s":"O130","x":1540,"y":0.028},{"s":"O130","x":1450,"y":0.028},{"s":"O130","x":1350,"y":0.028},{"s":"O130","x":1270,"y":0.028},{"s":"O130","x":1240,"y":0.030},{"s":"O130","x":1221,"y":0.034},{"s":"O130","x":1210,"y":0.042},{"s":"O130","x":1203,"y":0.050},{"s":"O130","x":1193,"y":0.060},{"s":"O130","x":1185,"y":0.070},{"s":"O130","x":1178,"y":0.085},{"s":"O130","x":1171,"y":0.105},{"s":"O130","x":1165,"y":0.140},{"s":"O130","x":1160,"y":0.190},{"s":"O130","x":1156,"y":0.230},{"s":"O130","x":1152,"y":0.262},{"s":"O130","x":1148,"y":0.276},{"s":"O130","x":1143,"y":0.275},{"s":"O130","x":1136,"y":0.262},{"s":"O130","x":1128,"y":0.245},{"s":"O130","x":1122,"y":0.236},{"s":"O130","x":1117,"y":0.255},{"s":"O130","x":1113,"y":0.274},{"s":"O130","x":1109,"y":0.262},{"s":"O130","x":1104,"y":0.229},{"s":"O130","x":1100,"y":0.250},{"s":"O130","x":1095,"y":0.285},{"s":"O130","x":1090,"y":0.300},{"s":"O130","x":1087,"y":0.301},{"s":"O130","x":1083,"y":0.285},{"s":"O130","x":1079,"y":0.262},{"s":"O130","x":1075,"y":0.220},{"s":"O130","x":1071,"y":0.191},{"s":"O130","x":1065,"y":0.140},{"s":"O130","x":1059,"y":0.105},{"s":"O130","x":1050,"y":0.082},{"s":"O130","x":1041,"y":0.070},{"s":"O130","x":1030,"y":0.060},{"s":"O130","x":1019,"y":0.053},{"s":"O130","x":1012,"y":0.060},{"s":"O130","x":1007,"y":0.081},{"s":"O130","x":1003,"y":0.070},{"s":"O130","x":995,"y":0.058},{"s":"O130","x":987,"y":0.047},{"s":"O130","x":981,"y":0.041},{"s":"O130","x":960,"y":0.037},{"s":"O130","x":927,"y":0.035},{"s":"O130","x":880,"y":0.034},{"s":"O130","x":837,"y":0.034},{"s":"O130","x":760,"y":0.034},{"s":"O130","x":710,"y":0.034},{"s":"O130","x":700,"y":0.035},{"s":"O130","x":693,"y":0.039},{"s":"O130","x":686,"y":0.050},{"s":"O130","x":680,"y":0.070},{"s":"O130","x":673,"y":0.110},{"s":"O130","x":668,"y":0.150},{"s":"O130","x":664,"y":0.200},{"s":"O130","x":660,"y":0.240},{"s":"O130","x":657,"y":0.250},{"s":"O130","x":654,"y":0.225},{"s":"O130","x":650,"y":0.160},{"s":"O130","x":645,"y":0.090},{"s":"O130","x":641,"y":0.062},{"s":"O130","x":636,"y":0.058},{"s":"O130","x":631,"y":0.068},{"s":"O130","x":628,"y":0.074},{"s":"O130","x":624,"y":0.070},{"s":"O130","x":618,"y":0.095},{"s":"O130","x":612,"y":0.130},{"s":"O130","x":606,"y":0.180},{"s":"O130","x":602,"y":0.240},{"s":"O130","x":599,"y":0.275},{"s":"O130","x":596,"y":0.255},{"s":"O130","x":592,"y":0.190},{"s":"O130","x":587,"y":0.120},{"s":"O130","x":581,"y":0.080},{"s":"O130","x":573,"y":0.064},{"s":"O130","x":565,"y":0.058},{"s":"O130","x":555,"y":0.056},{"s":"O130","x":540,"y":0.060},{"s":"O130","x":525,"y":0.068},{"s":"O130","x":510,"y":0.076},{"s":"O130","x":495,"y":0.085},{"s":"O130","x":480,"y":0.092},{"s":"O130","x":470,"y":0.095},{"s":"O130","x":460,"y":0.096},{"s":"O130","x":450,"y":0.089},{"s":"O130","x":440,"y":0.085},{"s":"O130","x":432,"y":0.090},{"s":"O130","x":425,"y":0.096},{"s":"O130","x":420,"y":0.097},{"s":"O130","x":414,"y":0.086},{"s":"O130","x":408,"y":0.095},{"s":"O130","x":403,"y":0.089},{"s":"O130","x":400,"y":0.091},

{"s":"Z120","x":1750,"y":0.001},{"s":"Z120","x":1720,"y":0.001},{"s":"Z120","x":1700,"y":0.002},{"s":"Z120","x":1690,"y":0.004},{"s":"Z120","x":1682,"y":0.006},{"s":"Z120","x":1675,"y":0.005},{"s":"Z120","x":1665,"y":0.002},{"s":"Z120","x":1655,"y":0.001},{"s":"Z120","x":1640,"y":0.003},{"s":"Z120","x":1632,"y":0.010},{"s":"Z120","x":1625,"y":0.020},{"s":"Z120","x":1619,"y":0.026},{"s":"Z120","x":1614,"y":0.022},{"s":"Z120","x":1608,"y":0.012},{"s":"Z120","x":1600,"y":0.007},{"s":"Z120","x":1590,"y":0.004},{"s":"Z120","x":1575,"y":0.003},{"s":"Z120","x":1550,"y":0.002},{"s":"Z120","x":1450,"y":0.002},{"s":"Z120","x":1350,"y":0.002},{"s":"Z120","x":1270,"y":0.002},{"s":"Z120","x":1240,"y":0.004},{"s":"Z120","x":1225,"y":0.007},{"s":"Z120","x":1210,"y":0.011},{"s":"Z120","x":1200,"y":0.018},{"s":"Z120","x":1192,"y":0.026},{"s":"Z120","x":1183,"y":0.045},{"s":"Z120","x":1174,"y":0.065},{"s":"Z120","x":1165,"y":0.085},{"s":"Z120","x":1158,"y":0.100},{"s":"Z120","x":1150,"y":0.125},{"s":"Z120","x":1140,"y":0.156},{"s":"Z120","x":1132,"y":0.168},{"s":"Z120","x":1125,"y":0.176},{"s":"Z120","x":1118,"y":0.182},{"s":"Z120","x":1113,"y":0.186},{"s":"Z120","x":1108,"y":0.183},{"s":"Z120","x":1104,"y":0.177},{"s":"Z120","x":1098,"y":0.168},{"s":"Z120","x":1093,"y":0.156},{"s":"Z120","x":1085,"y":0.137},{"s":"Z120","x":1077,"y":0.117},{"s":"Z120","x":1068,"y":0.092},{"s":"Z120","x":1059,"y":0.070},{"s":"Z120","x":1050,"y":0.058},{"s":"Z120","x":1041,"y":0.050},{"s":"Z120","x":1030,"y":0.044},{"s":"Z120","x":1017,"y":0.040},{"s":"Z120","x":1010,"y":0.038},{"s":"Z120","x":1006,"y":0.040},{"s":"Z120","x":1002,"y":0.036},{"s":"Z120","x":994,"y":0.032},{"s":"Z120","x":981,"y":0.027},{"s":"Z120","x":960,"y":0.022},{"s":"Z120","x":927,"y":0.018},{"s":"Z120","x":880,"y":0.015},{"s":"Z120","x":837,"y":0.012},{"s":"Z120","x":790,"y":0.011},{"s":"Z120","x":746,"y":0.011},{"s":"Z120","x":715,"y":0.012},{"s":"Z120","x":698,"y":0.016},{"s":"Z120","x":690,"y":0.025},{"s":"Z120","x":683,"y":0.050},{"s":"Z120","x":677,"y":0.080},{"s":"Z120","x":672,"y":0.100},{"s":"Z120","x":668,"y":0.107},{"s":"Z120","x":664,"y":0.100},{"s":"Z120","x":660,"y":0.085},{"s":"Z120","x":655,"y":0.065},{"s":"Z120","x":650,"y":0.048},{"s":"Z120","x":645,"y":0.040},{"s":"Z120","x":640,"y":0.037},{"s":"Z120","x":632,"y":0.036},{"s":"Z120","x":625,"y":0.036},{"s":"Z120","x":618,"y":0.038},{"s":"Z120","x":612,"y":0.042},{"s":"Z120","x":606,"y":0.048},{"s":"Z120","x":602,"y":0.055},{"s":"Z120","x":599,"y":0.058},{"s":"Z120","x":596,"y":0.052},{"s":"Z120","x":592,"y":0.045},{"s":"Z120","x":587,"y":0.042},{"s":"Z120","x":580,"y":0.045},{"s":"Z120","x":572,"y":0.050},{"s":"Z120","x":565,"y":0.052},{"s":"Z120","x":560,"y":0.050},{"s":"Z120","x":552,"y":0.047},{"s":"Z120","x":545,"y":0.046},{"s":"Z120","x":538,"y":0.047},{"s":"Z120","x":530,"y":0.050},{"s":"Z120","x":520,"y":0.058},{"s":"Z120","x":510,"y":0.068},{"s":"Z120","x":500,"y":0.077},{"s":"Z120","x":490,"y":0.088},{"s":"Z120","x":480,"y":0.096},{"s":"Z120","x":470,"y":0.095},{"s":"Z120","x":460,"y":0.093},{"s":"Z120","x":450,"y":0.088},{"s":"Z120","x":440,"y":0.091},{"s":"Z120","x":432,"y":0.086},{"s":"Z120","x":425,"y":0.094},{"s":"Z120","x":420,"y":0.097},{"s":"Z120","x":414,"y":0.090},{"s":"Z120","x":408,"y":0.094},{"s":"Z120","x":403,"y":0.090},{"s":"Z120","x":400,"y":0.088}
],
"labels": [
{"t":"160 °C Z","x":1518,"y":0.216},
{"t":"160 °C O","x":1518,"y":0.192},
{"t":"150 °C Z","x":1518,"y":0.167},
{"t":"150 °C O","x":1518,"y":0.142},
{"t":"140 °C Z","x":1518,"y":0.116},
{"t":"140 °C O","x":1518,"y":0.092},
{"t":"130 °C Z","x":1518,"y":0.066},
{"t":"130 °C O","x":1518,"y":0.041},
{"t":"120 °C Z","x":1518,"y":0.016}
]
},
"resolve": {"axis": {"y": "independent"}},
"layer": [
{
"data": {"name": "spec"},
"mark": {"type": "line", "strokeWidth": 1.2, "interpolate": "monotone", "clip": true},
"encoding": {
"x": {"field": "x", "type": "quantitative",
"scale": {"domain": [400, 1750], "reverse": true, "nice": false, "zero": false},
"axis": {"title": "valni broj / cm⁻¹", "values": [1700,1600,1500,1400,1300,1200,1100,1000,900,800,700,600,500,400],
"labelExpr": "datum.value % 200 === 0 ? format(datum.value, 'd') : ''",
"tickSize": {"condition": {"test": "datum.value % 200 === 0", "value": 10}, "value": 7},
"grid": false, "labelFlush": false, "labelOverlap": false, "domainColor": "black", "domainWidth": 2, "tickColor": "black", "tickWidth": 1.5,
"labelFontSize": 18, "labelColor": "black", "labelPadding": 6, "titleFontSize": 24, "titleFontWeight": "normal", "titleColor": "black", "titlePadding": 8}},
"y": {"field": "y", "type": "quantitative",
"scale": {"domain": [-0.027, 0.6], "nice": false, "zero": false},
"axis": {"orient": "left", "offset": 0, "title": "Apsorbancija / a.u.", "values": [0,0.05,0.1,0.15,0.2,0.25,0.3,0.35,0.4,0.45,0.5,0.55,0.6],
"labelExpr": "replace(format(datum.value, '.2f'), '.', ',')", "tickSize": 10,
"grid": false, "labelOverlap": false, "domainColor": "black", "domainWidth": 2, "tickColor": "black", "tickWidth": 1.5,
"labelFontSize": 18, "labelColor": "black", "labelPadding": 4, "titleFontSize": 24, "titleFontWeight": "normal", "titleColor": "black", "titlePadding": 32}},
"color": {"field": "s", "type": "nominal", "legend": null,
"scale": {"domain": ["Z160","O160","Z150","O150","Z140","O140","Z130","O130","Z120"],
"range": ["#800080","#0000FF","#008000","#000000","#008080","#808000","#FF8000","#FF0000","#000000"]}}
}
},
{
"data": {"name": "labels"},
"mark": {"type": "text", "align": "left", "baseline": "middle", "fontSize": 17, "font": "Liberation Sans", "color": "black"},
"encoding": {
"x": {"field": "x", "type": "quantitative"},
"y": {"field": "y", "type": "quantitative",
"axis": {"orient": "left", "offset": 0, "values": [-0.025,0.025,0.075,0.125,0.175,0.225,0.275,0.325,0.375,0.425,0.475,0.525,0.575], "labels": false, "domain": false, "title": null, "grid": false, "tickSize": 5, "tickColor": "black", "tickWidth": 1.5}},
"text": {"field": "t", "type": "nominal"}
}
}
]
}
